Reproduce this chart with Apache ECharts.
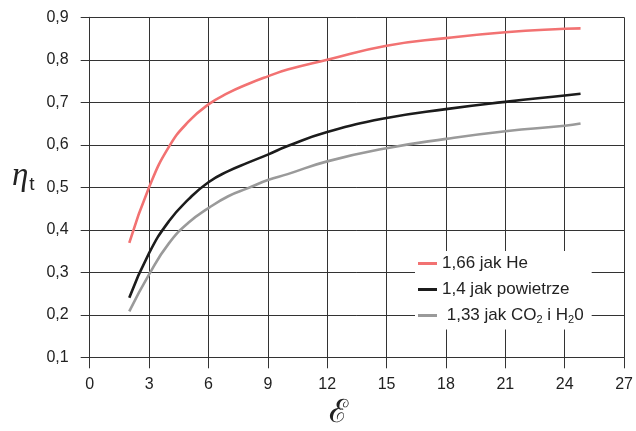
<!DOCTYPE html>
<html>
<head>
<meta charset="utf-8">
<script src="https://cdn.jsdelivr.net/npm/echarts@6/dist/echarts.min.js"></script>
<style>
  html, body { margin: 0; padding: 0; background: #fff; }
  #chart { width: 636px; height: 431px; }
</style>
</head>
<body>
<div id="chart"></div>
<script>
// stopień sprężania
const epsilon = [2, 3, 4, 5, 6, 7, 8, 9, 10, 12, 15, 18, 21, 24, 24.8]
// sprawność teoretyczna dla różnych kappa
const etaHe = [0.369, 0.50, 0.595, 0.655, 0.695, 0.722, 0.743, 0.761, 0.777, 0.80, 0.833, 0.851, 0.865, 0.873, 0.874]
const etaAir = [0.240, 0.345, 0.420, 0.472, 0.512, 0.538, 0.558, 0.577, 0.597, 0.630, 0.663, 0.684, 0.701, 0.716, 0.720]
const etaCO2 = [0.208, 0.295, 0.368, 0.417, 0.451, 0.479, 0.498, 0.517, 0.531, 0.561, 0.592, 0.614, 0.632, 0.645, 0.650]
const seriesNames = ['1,66 jak He', '1,4 jak powietrze', '1,33 jak CO2 i H20']

const pairs = (ys) => epsilon.map((x, i) => [x, ys[i]])

const chart = echarts.init(document.getElementById('chart'))

const gridColor = '#333'
const lineOpts = (name, data, color) => ({
  name,
  type: 'line',
  data: pairs(data),
  smooth: 0.5,
  showSymbol: false,
  lineStyle: { color, width: 2.6 },
  itemStyle: { color },
})

chart.setOption({
  animation: false,
  textStyle: { fontFamily: 'Liberation Sans, Arial, sans-serif' },
  grid: { left: 89.7, right: 9, top: 17.3, bottom: 73.7 },
  legend: {
    orient: 'vertical',
    left: 415,
    top: 251,
    backgroundColor: '#fff',
    padding: [4, 8, 4, 3],
    itemGap: 9,
    itemWidth: 19,
    itemHeight: 3,
    icon: 'rect',
    data: seriesNames,
    formatter: (name) => name === seriesNames[2]
      ? ' 1,33 jak CO{sub|2} i H{sub|2}0'
      : name,
    textStyle: {
      fontSize: 17,
      color: '#222',
      lineHeight: 17,
      rich: {
        sub: { fontSize: 11, color: '#222', padding: [9, 0, 0, 0] },
      },
    },
  },
  xAxis: {
    type: 'value',
    min: 0,
    max: 27,
    interval: 3,
    axisLine: { show: true, lineStyle: { color: gridColor, width: 1 } },
    axisTick: { show: true, length: 11, lineStyle: { color: gridColor } },
    splitLine: { show: true, lineStyle: { color: gridColor, width: 1 } },
    axisLabel: { fontSize: 16, color: '#222', margin: 19 },
  },
  yAxis: {
    type: 'value',
    min: 0.1,
    max: 0.9,
    interval: 0.1,
    axisLine: { show: true, lineStyle: { color: gridColor, width: 1 } },
    axisTick: { show: true, length: 9, lineStyle: { color: gridColor } },
    splitLine: { show: true, lineStyle: { color: gridColor, width: 1 } },
    axisLabel: {
      fontSize: 16,
      color: '#222',
      margin: 21,
      formatter: (v) => v.toFixed(1).replace('.', ','),
    },
  },
  graphic: [
    {
      type: 'text',
      left: 12,
      top: 160,
      style: {
        text: '{eta|η}{t|t}',
        rich: {
          eta: { fontFamily: 'Liberation Serif', fontStyle: 'italic', fontSize: 33, fill: '#222' },
          t: { fontFamily: 'Liberation Sans', fontSize: 19, fill: '#222', padding: [16, 0, 0, 1] },
        },
      },
    },
    {
      type: 'text',
      left: 329,
      top: 398,
      style: {
        text: 'ℰ',
        fontFamily: 'DejaVu Serif',
        fontSize: 32,
        fill: '#222',
      },
    },
  ],
  series: [
    lineOpts(seriesNames[0], etaHe, '#f27272'),
    lineOpts(seriesNames[1], etaAir, '#1c1c1c'),
    lineOpts(seriesNames[2], etaCO2, '#9a9a9a'),
  ],
})
</script>
</body>
</html>
